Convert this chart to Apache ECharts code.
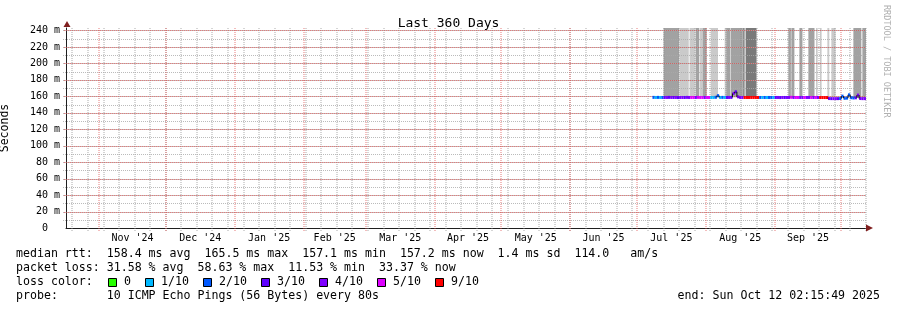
<!DOCTYPE html>
<html><head><meta charset="utf-8">
<script src="https://cdn.jsdelivr.net/npm/echarts@6/dist/echarts.min.js"></script>
<style>html,body{margin:0;padding:0;background:#fff}#c{width:897px;height:310px}</style>
</head><body><div id="c"></div>
<script>
// ---------------- data ----------------
const titleText = 'Last 360 Days';
const rangeStart = '2024-10-17T02:15:49Z';
const rangeEnd = '2025-10-12T02:15:49Z';
const yMax = 243;
const yLabelValues = [0,20,40,60,80,100,120,140,160,180,200,220,240];
const yMinorValues = [10,20,30,40,50,60,70,80,90,100,110,120,130,140,150,160,170,180,190,200,210,220,230,240];
const monthStarts = ['2024-11-01','2024-12-01','2025-01-01','2025-02-01','2025-03-01','2025-04-01','2025-05-01','2025-06-01','2025-07-01','2025-08-01','2025-09-01','2025-10-01'];
const monthLabels = ["Nov '24","Dec '24","Jan '25","Feb '25","Mar '25","Apr '25","May '25","Jun '25","Jul '25","Aug '25","Sep '25"];
const firstWeekLine = '2024-10-20';

// median rtt per day (ms) and packet loss (out of 10 pings)
const rttDates = [
'2025-07-08','2025-07-09','2025-07-10','2025-07-11','2025-07-12','2025-07-13','2025-07-14','2025-07-15','2025-07-16','2025-07-17','2025-07-18','2025-07-19','2025-07-20','2025-07-21','2025-07-22','2025-07-23','2025-07-24','2025-07-25','2025-07-26','2025-07-27','2025-07-28','2025-07-29','2025-07-30','2025-07-31',
'2025-08-01','2025-08-02','2025-08-03','2025-08-04','2025-08-05','2025-08-06','2025-08-07','2025-08-08','2025-08-09','2025-08-10','2025-08-11','2025-08-12','2025-08-13','2025-08-14','2025-08-15','2025-08-16','2025-08-17','2025-08-18','2025-08-19','2025-08-20','2025-08-21','2025-08-22','2025-08-23','2025-08-24','2025-08-25','2025-08-26','2025-08-27','2025-08-28','2025-08-29','2025-08-30','2025-08-31',
'2025-09-01','2025-09-02','2025-09-03','2025-09-04','2025-09-05','2025-09-06','2025-09-07','2025-09-08','2025-09-09','2025-09-10','2025-09-11','2025-09-12','2025-09-13','2025-09-14','2025-09-15','2025-09-16','2025-09-17','2025-09-18','2025-09-19','2025-09-20','2025-09-21','2025-09-22','2025-09-23','2025-09-24','2025-09-25','2025-09-26','2025-09-27','2025-09-28','2025-09-29','2025-09-30',
'2025-10-01','2025-10-02','2025-10-03','2025-10-04','2025-10-05','2025-10-06','2025-10-07','2025-10-08','2025-10-09','2025-10-10','2025-10-11'];
const rttMedian = [
158.7,158.6,158.7,158.6,158.6,158.6,158.6,158.7,158.6,158.6,158.6,158.5,158.6,158.6,158.6,158.7,158.6,158.6,158.6,158.6,158.7,158.6,158.6,158.6,
158.6,158.6,158.6,158.6,158.8,160.8,158.6,158.7,158.6,158.6,158.6,158.7,163.5,165.5,159.4,158.6,158.6,158.6,158.6,158.6,158.6,158.6,158.6,158.6,158.6,158.6,158.6,158.6,158.6,158.6,158.6,
158.6,158.6,158.5,158.6,158.6,158.6,158.6,158.8,158.6,158.6,158.6,158.6,158.6,158.6,158.6,158.6,158.6,158.6,158.6,158.6,158.5,158.5,158.5,158.5,157.3,157.2,157.2,157.2,157.2,157.3,
160.2,157.6,157.8,161.8,158.3,158.0,158.2,161.5,157.3,157.2,157.2];
const rttLoss = [
2,1,2,1,2,3,4,3,4,3,4,3,4,4,3,4,4,5,5,4,5,5,5,4,
5,5,1,1,2,2,1,2,1,3,4,3,4,3,4,4,4,9,9,9,9,9,9,9,2,1,2,1,2,2,1,
3,4,3,4,3,4,4,5,4,5,5,4,4,5,4,4,5,4,5,4,9,9,9,9,4,3,4,4,3,2,
2,2,2,2,2,2,3,4,4,4,4];

// smoke (spread of the individual pings), shade 0 light .. 3 dark
const smokeStart = ['2025-07-13T00','2025-07-20T04','2025-07-24T17','2025-07-27T10','2025-07-29T05','2025-07-30T14','2025-08-03T05','2025-08-09T12','2025-08-10T05','2025-08-12T05','2025-08-17T14','2025-08-18T22','2025-09-07T04','2025-09-08T12','2025-09-12T03','2025-09-16T04','2025-09-19T19','2025-09-21T14','2025-09-24T17','2025-09-26T12','2025-10-06T10','2025-10-10T11'];
const smokeEnd   = ['2025-07-20T00','2025-07-24T08','2025-07-27T02','2025-07-29T00','2025-07-30T14','2025-08-01T10','2025-08-06T12','2025-08-10T05','2025-08-12T00','2025-08-17T14','2025-08-18T12','2025-08-23T20','2025-09-08T07','2025-09-09T21','2025-09-13T12','2025-09-18T22','2025-09-20T05','2025-09-22T00','2025-09-25T14','2025-09-28T10','2025-10-10T00','2025-10-12T02'];
const smokeLow   = [159,159,159,159,159,159,159,159,159,159,159,159,159,159,159,159,159,159,159,159,158,158];
const smokeHigh  = [243,243,243,243,243,243,243,243,243,243,243,243,243,243,243,243,243,243,243,243,243,243];
const smokeShade = [1,0,0,1,0,1,0,0,1,1,2,3,1,1,1,1,1,1,0,0,1,1];

const lossLevels = [0,1,2,3,4,5,9];
const lossLabels = ['0','1/10','2/10','3/10','4/10','5/10','9/10'];
const lossColors = ['#26ff00','#00b8ff','#0059ff','#5e00ff','#7e00ff','#dd00ff','#ff0000'];

const legendRtt = 'median rtt:  158.4 ms avg  165.5 ms max  157.1 ms min  157.2 ms now  1.4 ms sd  114.0   am/s';
const legendLoss = 'packet loss: 31.58 % avg  58.63 % max  11.53 % min  33.37 % now';
const legendProbe = 'probe:       10 ICMP Echo Pings (56 Bytes) every 80s';
const legendEnd = 'end: Sun Oct 12 02:15:49 2025';

// ---------------- build ----------------
const MONO = 'DejaVu Sans Mono';
const T = s => Date.parse(s.length === 10 ? s + 'T00:00:00Z' : (s.endsWith('Z') ? s : s + ':00:00Z'));
const xMin = T(rangeStart), xMax = T(rangeEnd);
const DAY = 86400000;
const shadeColors = ['#cacaca','#a2a2a2','#8c8c8c','#7a7a7a'];
const lossColorOf = l => lossColors[lossLevels.indexOf(l)];

const monthT = monthStarts.map(T);
const labelPos = monthLabels.map((l,i)=> (monthT[i] + monthT[i+1]) / 2);
const labelMap = {}; labelPos.forEach((p,i)=> labelMap[p] = monthLabels[i]);
const weekT = []; for (let t = T(firstWeekLine); t < xMax; t += 7*DAY) weekT.push(t);

const smokeData = smokeStart.map((s,i)=>[T(s), T(smokeEnd[i]), smokeLow[i], smokeHigh[i], smokeShade[i]]);
const rttData = rttDates.map((d,i)=>[T(d), i+1 < rttDates.length ? T(rttDates[i+1]) : xMax, rttMedian[i], i+1 < rttDates.length ? rttMedian[i+1] : rttMedian[i], rttLoss[i]]);

const minorCol = 'rgba(143,143,143,0.75)', majorCol = 'rgba(222,79,79,0.75)';
const axisCol = '#1f1f1f', arrowCol = '#801f1f';

function vGrid(major){
  return function(params, api){
    const cs = params.coordSys;
    const x = Math.round(api.coord([api.value(0), 0])[0]);
    return {type:'line', shape:{x1:x, y1:cs.y + cs.height + 3, x2:x, y2:cs.y},
      style:{stroke:major ? majorCol : minorCol, lineWidth:1, lineDash:[1,1]}};
  };
}
function hGrid(major){
  return function(params, api){
    const cs = params.coordSys;
    const y = Math.round(api.coord([xMin, api.value(1)])[1]) + 0.5;
    return {type:'line', shape:{x1:cs.x - 3, y1:y, x2:cs.x + cs.width, y2:y},
      style:{stroke:major ? majorCol : 'rgba(170,170,170,0.8)', lineWidth:1, lineDash:[1,1], lineDashOffset: major ? 1 : 0}};
  };
}

const option = {
  animation:false,
  backgroundColor:'#ffffff',
  title:{text:titleText, left:'center', top:12, textStyle:{fontFamily:MONO, fontSize:13, fontWeight:'normal', color:'#000'}},
  grid:{left:66, top:28, width:800, height:200, outerBoundsMode:'none', containLabel:false},
  xAxis:{type:'value', min:xMin, max:xMax,
    axisLine:{show:true, lineStyle:{color:axisCol, width:1}},
    axisTick:{show:false}, splitLine:{show:false}, minorSplitLine:{show:false},
    axisLabel:{customValues:labelPos, formatter:v=>labelMap[v] || '', fontFamily:MONO, fontSize:10, color:'#000', margin:5}},
  yAxis:{type:'value', min:0, max:yMax, name:'Seconds', nameLocation:'middle', nameGap:55, nameRotate:90,
    nameTextStyle:{fontFamily:MONO, fontSize:11.5, color:'#000'},
    axisLine:{show:true, lineStyle:{color:axisCol, width:1}},
    axisTick:{show:false}, splitLine:{show:false}, minorSplitLine:{show:false},
    axisLabel:{customValues:yLabelValues, formatter:v=> v===0 ? '0  ' : v + ' m', fontFamily:MONO, fontSize:10, color:'#000', margin:6}},
  series:[
    {type:'custom', name:'smoke', clip:true, z:2, data:smokeData,
      renderItem:(params, api)=>{
        const a = api.coord([api.value(0), api.value(3)]);
        const b = api.coord([api.value(1), api.value(2)]);
        return {type:'rect', shape:{x:a[0], y:a[1], width:b[0]-a[0], height:b[1]-a[1]}, style:{fill:shadeColors[api.value(4)]}};
      }},
    {type:'custom', name:'weekGrid', z:3, silent:true, data:weekT.map(t=>[t,0]), renderItem:vGrid(false)},
    {type:'custom', name:'minorHGrid', z:3, silent:true, data:yMinorValues.map(v=>[xMin,v]), renderItem:hGrid(false)},
    {type:'custom', name:'monthGrid', z:4, silent:true, data:monthT.map(t=>[t,0]), renderItem:vGrid(true)},
    {type:'custom', name:'majorHGrid', z:4, silent:true, data:yLabelValues.filter(v=>v>0).map(v=>[xMin,v]), renderItem:hGrid(true)},
    {type:'custom', name:'median', z:6, data:rttData,
      renderItem:(params, api)=>{
        const a = api.coord([api.value(0), api.value(2)]);
        const b = api.coord([api.value(1), api.value(2)]);
        const c = api.coord([api.value(1), api.value(3)]);
        return {type:'group', children:[
          {type:'line', shape:{x1:a[0], y1:a[1], x2:b[0], y2:b[1]}, style:{stroke:lossColorOf(api.value(4)), lineWidth:3}},
          {type:'line', z2:5, shape:{x1:b[0], y1:b[1], x2:c[0], y2:c[1]}, style:{stroke:'#111', lineWidth:1}}
        ]};
      }}
  ],
  graphic:[]
};

const g = option.graphic;
g.push({type:'polygon', shape:{points:[[63.5,27],[70.5,27],[67,21]]}, style:{fill:arrowCol}, z:10});
g.push({type:'polygon', shape:{points:[[866,224.5],[866,231.5],[873,228]]}, style:{fill:arrowCol}, z:10});
g.push({type:'text', x:886, y:5, rotation:-Math.PI/2, style:{text:'RRDTOOL / TOBI OETIKER', font:'8.5px "DejaVu Sans Mono"', fill:'#b0b0b0', align:'left', verticalAlign:'middle'}});
const lt = (txt, x, y, align) => g.push({type:'text', x:x, y:y, style:{text:txt, font:'11.6px "DejaVu Sans Mono"', fill:'#000', align:align||'left', verticalAlign:'middle'}});
lt(legendRtt, 16, 254);
lt(legendLoss, 16, 268);
lt('loss color:', 16, 282);
lt(legendProbe, 16, 296);
lt(legendEnd, 880, 296, 'right');
const sqX = [108.5,145.5,203.5,261.5,319.5,377.5,435.5];
lossLabels.forEach((l,i)=>{
  g.push({type:'rect', shape:{x:sqX[i], y:278.5, width:8, height:8}, style:{fill:lossColors[i], stroke:'#000', lineWidth:1}});
  lt(l, sqX[i] + 15.5, 282);
});

const chart = echarts.init(document.getElementById('c'));
chart.setOption(option);
</script></body></html>
